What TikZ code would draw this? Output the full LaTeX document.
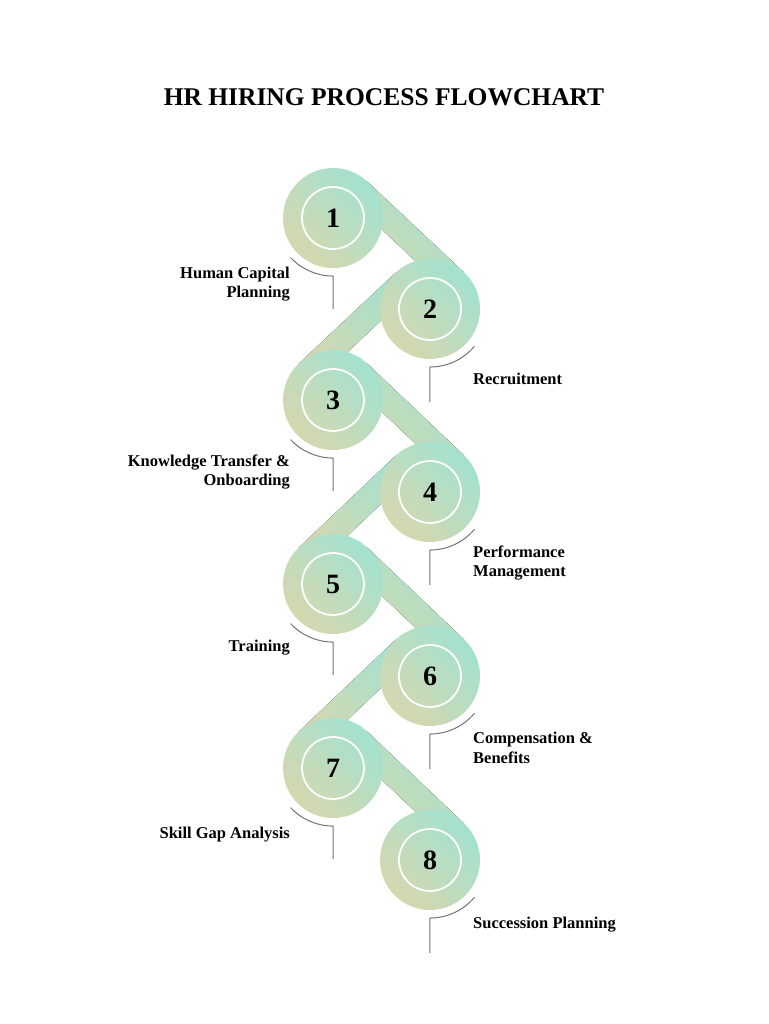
\documentclass[tikz,border=0pt]{standalone}
\usepackage{fontspec}
\setmainfont{Liberation Serif}
\usetikzlibrary{calc}
\begin{document}
\begin{tikzpicture}[x=1pt,y=-1pt,
  lbl/.style={font=\bfseries\fontsize{16.5}{19.5}\selectfont,inner sep=0pt},
  num/.style={font=\bfseries\fontsize{28}{28}\selectfont,inner sep=0pt},
  grad/.style={shading=axis,left color=gA,right color=gB,shading angle=-45},
  callout/.style={draw=gray!90!black,line width=1pt}]
\definecolor{gA}{HTML}{A2E2D0}
\definecolor{gB}{HTML}{D6D7AE}
\useasboundingbox (0,0) rectangle (768,1024);
\node[font=\bfseries\fontsize{25.5}{25.5}\selectfont] (title) at (384,97) {HR HIRING PROCESS FLOWCHART};
\foreach \i/\x/\y in {1/333/218,2/430/309,3/333/400,4/430/492,5/333/584,6/430/676,7/333/768,8/430/860}
  \coordinate (c\i) at (\x,\y);
% bands
\foreach \a/\b/\s in {1/2/1,2/3/-1,3/4/1,4/5/-1,5/6/1,6/7/-1,7/8/1}{
  \pgfmathsetmacro{\px}{0.684*\s}
  \fill[grad] ($(c\a)+(25*\px,-25*0.729)$) -- ($(c\a)+(50*\px,-50*0.729)$)
     -- ($(c\b)+(50*\px,-50*0.729)$) -- ($(c\b)+(25*\px,-25*0.729)$) -- cycle;
}
% circles
\foreach \i in {1,...,8}{
  \shade[grad] (c\i) circle (50);
  \draw[white,line width=1.8pt] (c\i) circle (31);
  \node[num] (n\i) at (c\i) {\i};
}
% callouts
\foreach \i in {1,3,5,7}{
  \draw[callout] ($(c\i)+(-42.4,39.6)$) arc[start angle=137,end angle=90,radius=58]
     -- ++(0,33);
}
\foreach \i in {2,4,6,8}{
  \draw[callout] ($(c\i)+(44.4,37.3)$) arc[start angle=40,end angle=90,radius=58]
     -- ++(0,35);
}
\node[lbl,align=right,anchor=east] (l1) at (290,284) {Human Capital\\Planning};
\node[lbl,align=left,anchor=west] (l2) at (473,379) {Recruitment};
\node[lbl,align=right,anchor=east] (l3) at (290,472) {Knowledge Transfer \&\\Onboarding};
\node[lbl,align=left,anchor=west] (l4) at (473,563) {Performance\\Management};
\node[lbl,align=right,anchor=east] (l5) at (290,648) {Training};
\node[lbl,align=left,anchor=west] (l6) at (473,748) {Compensation \&\\Benefits};
\node[lbl,align=right,anchor=east] (l7) at (290,835) {Skill Gap Analysis};
\node[lbl,align=left,anchor=west] (l8) at (473,925) {Succession Planning};
\end{tikzpicture}
\end{document}
